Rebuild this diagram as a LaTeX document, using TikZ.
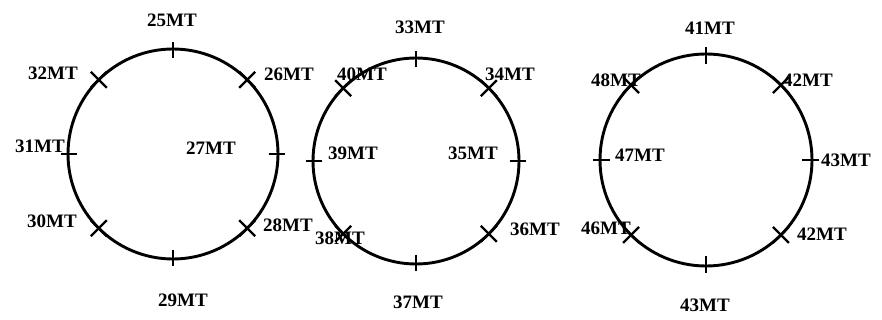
\documentclass[tikz,border=0pt]{standalone}
\usepackage{fontspec}
\setmainfont{Liberation Serif}
\usetikzlibrary{calc}
\tikzset{
  ring/.style={circle, draw, line width=2.9pt, inner sep=0pt, outer sep=0pt},
  tickmark/.style={line width=2.2pt},
  lbl/.style={font=\fontsize{19}{19}\selectfont\bfseries, inner sep=0pt}
}
\newcommand{\radtick}[2]{%
  \draw[tickmark] ($(#1.center)!0.91!(#1.#2)$) -- ($(#1.center)!1.07!(#1.#2)$);}
\newcommand{\xmark}[2]{%
  \draw[tickmark] ([shift={(-8,-8)}]#1.#2) -- ([shift={(8,8)}]#1.#2);
  \draw[tickmark] ([shift={(-8,8)}]#1.#2) -- ([shift={(8,-8)}]#1.#2);}
\begin{document}
\begin{tikzpicture}[x=1pt,y=-1pt]
\path[use as bounding box] (0,0) rectangle (882,320);
% circles
\node[ring, minimum size=210pt] (c1) at (173,154) {};
\node[ring, minimum size=206pt] (c2) at (416,161) {};
\node[ring, minimum size=212pt] (c3) at (706,160) {};
\foreach \c in {c1,c2,c3}{
  \foreach \a in {0,90,180,270}{\radtick{\c}{\a}}
  \foreach \a in {45,135,225,315}{\xmark{\c}{\a}}
}
% labels circle 1
\node[lbl] (l25) at (172,20) {25MT};
\node[lbl] (l32) at (53,73) {32MT};
\node[lbl] (l26) at (289,74) {26MT};
\node[lbl] (l31) at (40,146) {31MT};
\node[lbl] (l27) at (211,148) {27MT};
\node[lbl] (l30) at (52,221) {30MT};
\node[lbl] (l28) at (288,225) {28MT};
\node[lbl] (l29) at (183,300) {29MT};
% labels circle 2
\node[lbl] (l33) at (420,27) {33MT};
\node[lbl] (l40) at (362,74) {40MT};
\node[lbl] (l34) at (510,74) {34MT};
\node[lbl] (l39) at (353,153) {39MT};
\node[lbl] (l35) at (473,153) {35MT};
\node[lbl] (l38) at (340,238) {38MT};
\node[lbl] (l36) at (535,229) {36MT};
\node[lbl] (l37) at (418,302) {37MT};
% labels circle 3
\node[lbl] (l41) at (710,28) {41MT};
\node[lbl] (l48) at (616,80) {48MT};
\node[lbl] (l42a) at (808,80) {42MT};
\node[lbl] (l47) at (640,155) {47MT};
\node[lbl] (l43a) at (846,160) {43MT};
\node[lbl] (l46) at (606,228) {46MT};
\node[lbl] (l42b) at (822,234) {42MT};
\node[lbl] (l43b) at (705,305) {43MT};
\end{tikzpicture}
\end{document}
